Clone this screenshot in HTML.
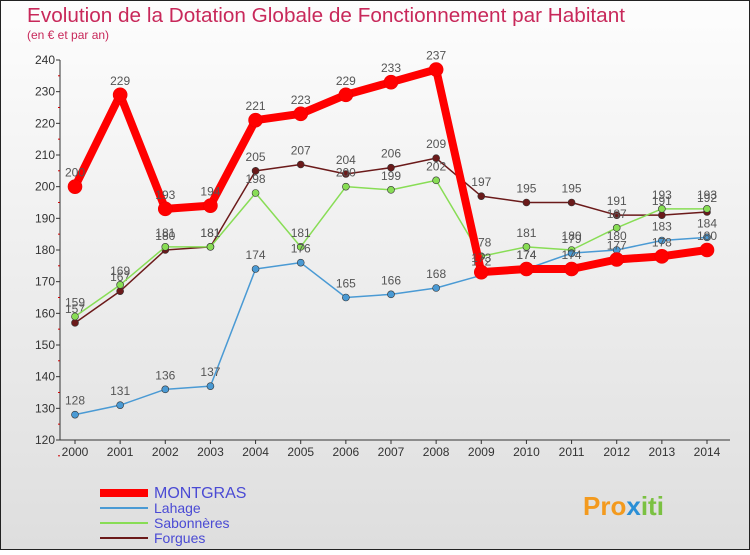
<!DOCTYPE html>
<html><head><meta charset="utf-8"><style>
body{margin:0;width:750px;height:550px;overflow:hidden;font-family:"Liberation Sans",sans-serif}
</style></head><body>
<svg width="750" height="550" xmlns="http://www.w3.org/2000/svg">
<defs><linearGradient id="bg" x1="0" y1="0" x2="0" y2="1"><stop offset="0" stop-color="#fdfdfd"/><stop offset="1" stop-color="#dedede"/></linearGradient></defs>
<rect x="0.5" y="0.5" width="749" height="549" fill="url(#bg)" stroke="#222"/>
<text x="27" y="22" font-size="20" fill="#c8285a" textLength="598" lengthAdjust="spacingAndGlyphs">Evolution de la Dotation Globale de Fonctionnement par Habitant</text>
<text x="27" y="39" font-size="12" fill="#c8285a">(en € et par an)</text>
<g id="axes"></g>
<g id="series"></g>
<g id="legend"></g>
<text x="583" y="515" font-size="26" font-weight="bold" fill="#f39a1e">Pro<tspan fill="#2a8fd6">x</tspan><tspan fill="#7bc142">iti</tspan></text>
</svg>
<script>
const years=[2000,2001,2002,2003,2004,2005,2006,2007,2008,2009,2010,2011,2012,2013,2014];
const yTicks=[120,130,140,150,160,170,180,190,200,210,220,230,240];
const montgras=[200,229,193,194,221,223,229,233,237,173,174,174,177,178,180];
const lahage=[128,131,136,137,174,176,165,166,168,172,174,179,180,183,184];
const sabonneres=[159,169,181,181,198,181,200,199,202,178,181,180,187,193,193];
const forgues=[157,167,180,181,205,207,204,206,209,197,195,195,191,191,192];
const NS="http://www.w3.org/2000/svg";
const xs=i=>75+i*(707-75)/14;
const ys=v=>440-(v-120)*380/120;
function mk(t,a,p){const e=document.createElementNS(NS,t);for(const k in a)e.setAttribute(k,a[k]);p.appendChild(e);return e;}
const ax=document.getElementById('axes');
let l=mk('line',{x1:60,y1:60,x2:60,y2:440,stroke:'#333'},ax);

l=mk('line',{x1:60,y1:440,x2:730,y2:440,stroke:'#333'},ax);

yTicks.forEach(v=>{const y=ys(v);
 mk('line',{x1:56,y1:y,x2:60,y2:y,stroke:'#333'},ax);
 mk('line',{x1:58,y1:y+15.8,x2:60,y2:y+15.8,stroke:'#c00'},ax);
 const t=mk('text',{x:55,y:y+4,'font-size':12,fill:'#333','text-anchor':'end'},ax);t.textContent=v;
 });
years.forEach((yr,i)=>{const x=xs(i);
 mk('line',{x1:x,y1:440,x2:x,y2:444,stroke:'#333'},ax);
 const t=mk('text',{x:x,y:456,'font-size':12,fill:'#333','text-anchor':'middle'},ax);t.textContent=yr;
 });
const sg=document.getElementById('series');
const series=[
 {name:'forgues',d:forgues,c:'#6b1a1a',w:1.5,r:3.5},
 {name:'sabonneres',d:sabonneres,c:'#88dd55',w:1.5,r:3.5},
 {name:'lahage',d:lahage,c:'#4a9ad4',w:1.5,r:3.5},
 {name:'montgras',d:montgras,c:'#ff0000',w:8,r:7}];
series.forEach(s=>{
 const g=mk('g',{},sg);
 const p=mk('polyline',{points:s.d.map((v,i)=>xs(i)+','+ys(v)).join(' '),fill:'none',stroke:s.c,'stroke-width':s.w,'stroke-linejoin':'round'},g);
 
 s.d.forEach((v,i)=>{const c=mk('circle',{cx:xs(i),cy:ys(v),r:s.r,fill:s.c,stroke:s.w>2?'#e00':'#333','stroke-width':0.6},g);
  
  const t=mk('text',{x:xs(i),y:ys(v)-10,'font-size':12,fill:'#555','text-anchor':'middle'},g);t.textContent=v;
  });
});
const lg=document.getElementById('legend');
const leg=[['MONTGRAS','#ff0000',8,16],['Lahage','#4a9ad4',2,14],['Sabonnères','#88dd55',2,14],['Forgues','#6b1a1a',2,14]];
leg.forEach((e,i)=>{const y=493+i*15;
 const g=mk('g',{},lg);
 mk('line',{x1:100,y1:y,x2:148,y2:y,stroke:e[1],'stroke-width':e[2]},g);
 const t=mk('text',{x:154,y:y+5,'font-size':e[3],fill:'#4a4ad4'},g);t.textContent=e[0];});
</script>
</body></html>
